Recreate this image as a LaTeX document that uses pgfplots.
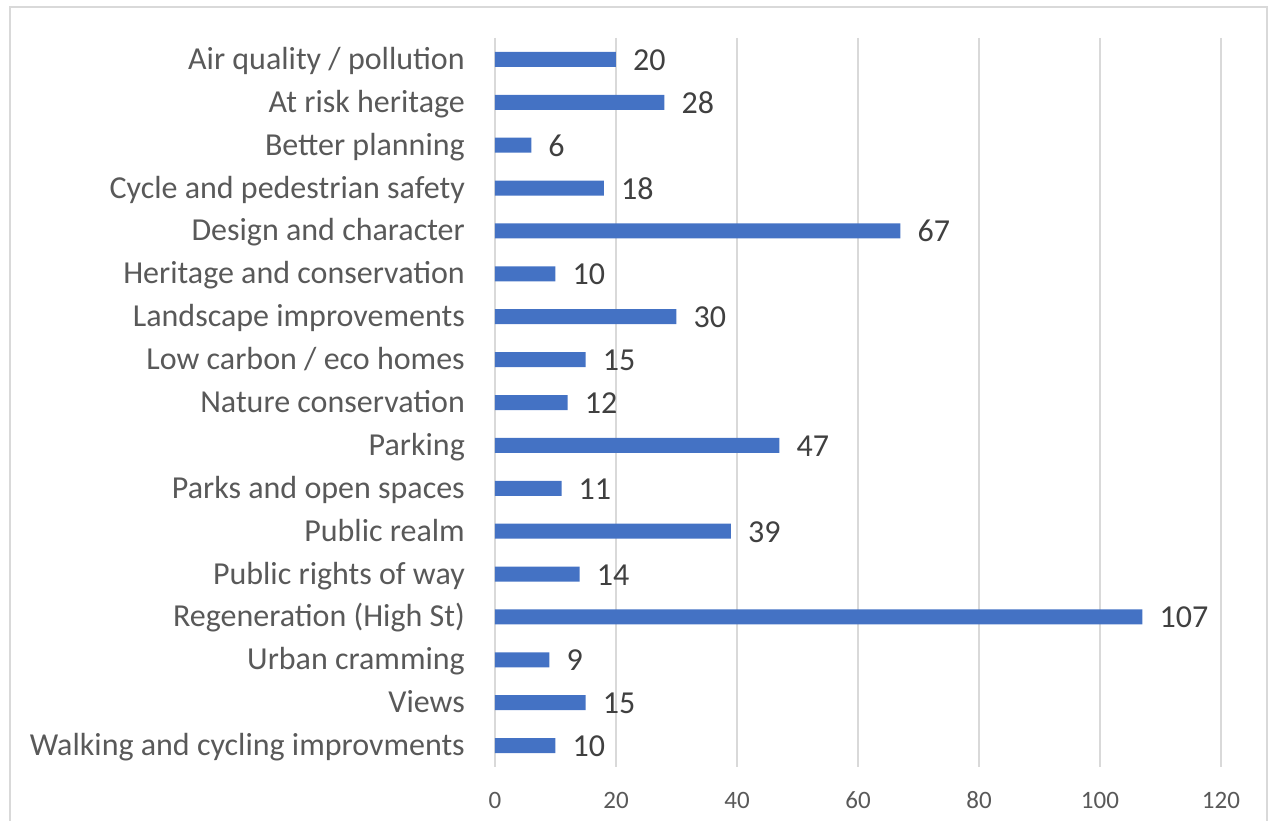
\documentclass[border=0pt]{standalone}
\usepackage{pgfplots}
\pgfplotsset{compat=1.18}
\usepackage{fontspec}
\setmainfont{Carlito}
\definecolor{barblue}{HTML}{4472C4}
\definecolor{gridgray}{HTML}{D9D9D9}
\definecolor{labelgray}{HTML}{404040}
\definecolor{tickgray}{HTML}{595959}

\begin{document}
\begin{tikzpicture}
\useasboundingbox (-495pt,-54pt) rectangle (773pt,767pt);
% outer chart frame
\draw[gridgray, line width=2pt] (-485pt,-60pt) -- (-485pt,760pt) -- (772pt,760pt) -- (772pt,-60pt);

\begin{axis}[%
at={(0pt,0pt)},
anchor=south west,
width=726pt,
height=729pt,
scale only axis,
xbar,
bar width=15pt,
xmin=0,
xmax=120,
ymin=-0.5,
ymax=16.5,
y dir=reverse,
xtick={0,20,...,120},
ytick={0,...,16},
yticklabels={Air quality / pollution,At risk heritage,Better planning,Cycle and pedestrian safety,Design and character,Heritage and conservation,Landscape improvements,Low carbon / eco homes,Nature conservation,Parking,Parks and open spaces,Public realm,Public rights of way,Regeneration (High St),Urban cramming,Views,Walking and cycling improvments},
axis line style={draw=none},
major tick length=0pt,
xmajorgrids,
grid style={gridgray, line width=2pt},
/pgf/number format/assume math mode=true,
xticklabel style={font=\fontsize{25}{29}\selectfont, text=tickgray, inner sep=0pt, anchor=center, yshift=-33pt},
yticklabel style={font=\fontsize{32}{38}\selectfont, text=tickgray, inner sep=0pt, anchor=base east, xshift=-30pt, yshift=-10pt},
nodes near coords,
nodes near coords style={font=\fontsize{32}{38}\selectfont, text=labelgray, inner sep=0pt, anchor=base west, xshift=17pt, yshift=-11pt},
]
\addplot [fill=barblue, draw=none]
table[row sep=crcr]{
20 0\\
28 1\\
6 2\\
18 3\\
67 4\\
10 5\\
30 6\\
15 7\\
12 8\\
47 9\\
11 10\\
39 11\\
14 12\\
107 13\\
9 14\\
15 15\\
10 16\\
};
\end{axis}
\end{tikzpicture}
\end{document}
